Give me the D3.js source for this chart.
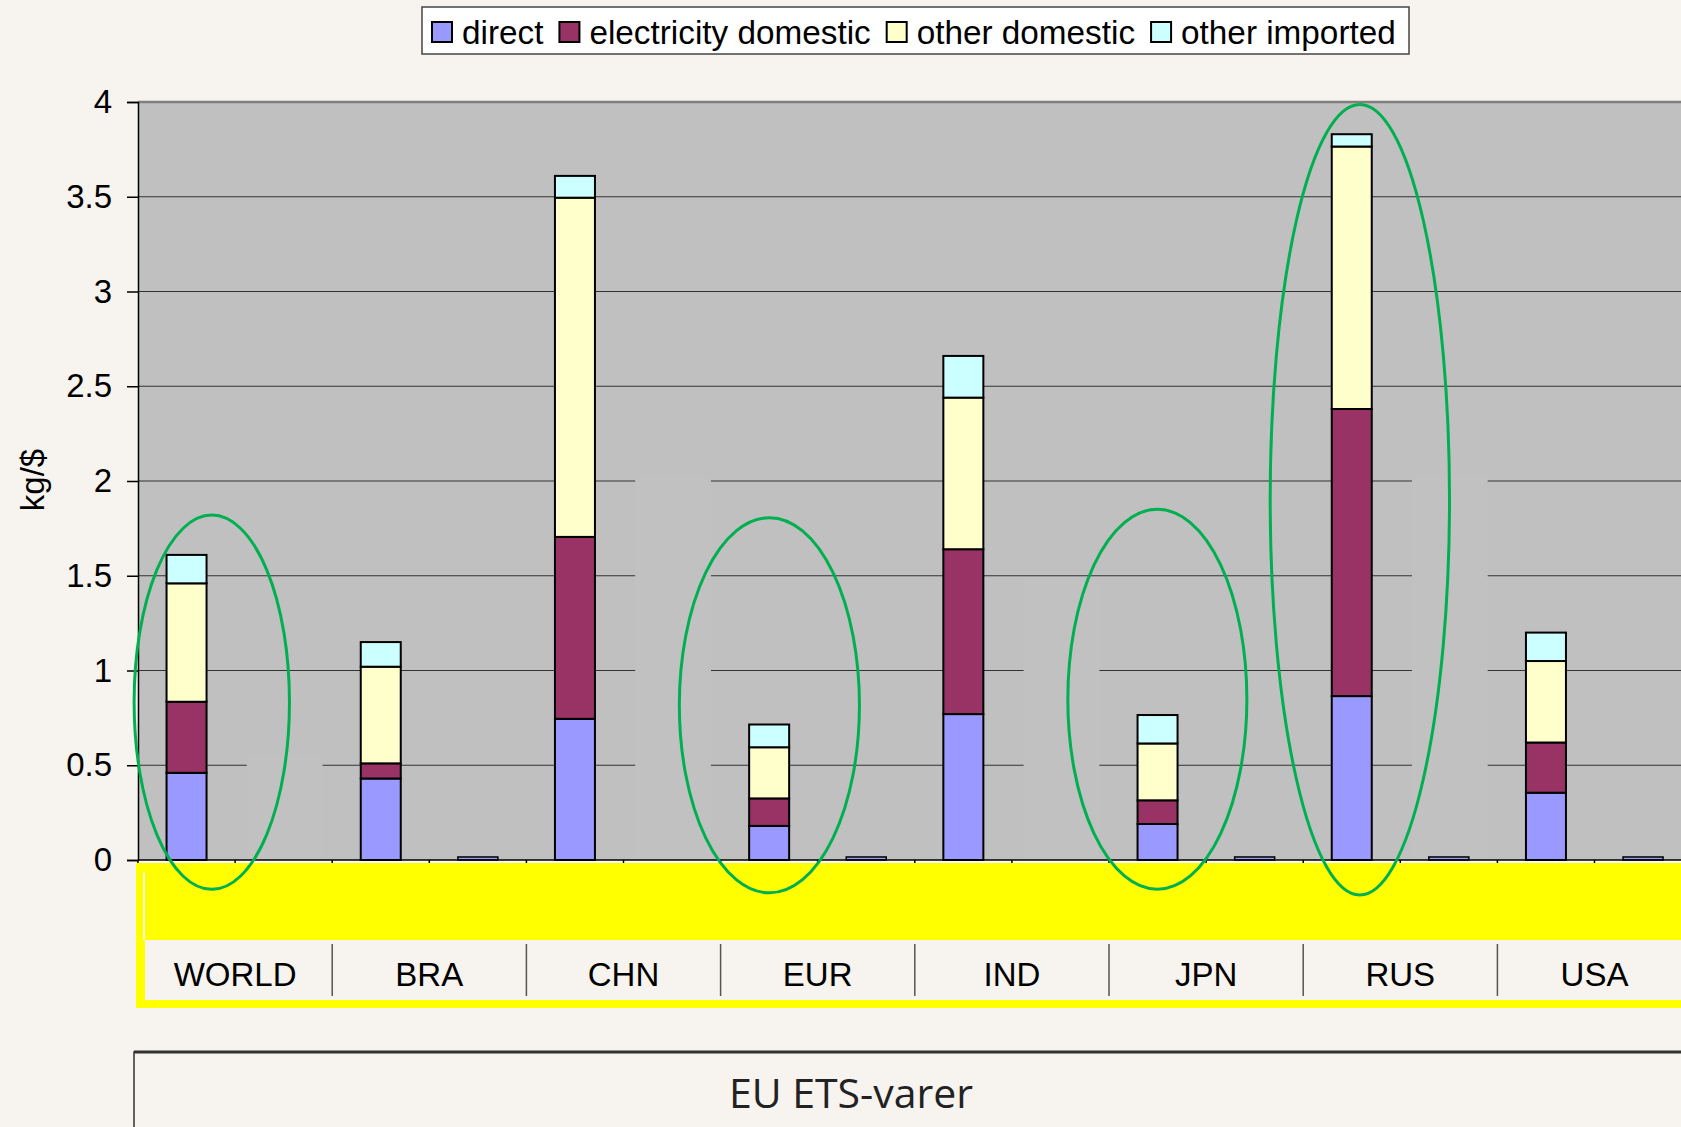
<!DOCTYPE html>
<html>
<head>
<meta charset="utf-8">
<script src="https://cdn.jsdelivr.net/npm/d3@7"></script>
<style>
  html, body { margin: 0; padding: 0; background: #f7f3ee; overflow: hidden; }
  svg { display: block; font-family: "Liberation Sans", Arial, sans-serif; }
</style>
</head>
<body>
<div class="chart"></div>
<script>
const categories = ["WORLD", "BRA", "CHN", "EUR", "IND", "JPN", "RUS", "USA"];
const seriesNames = ["direct", "electricity domestic", "other domestic", "other imported"];
const seriesColors = ["#9999ff", "#993366", "#ffffcc", "#ccffff"];

// first bar of each country
const direct = [0.46, 0.43, 0.745, 0.18, 0.77, 0.19, 0.865, 0.355];
const electricity = [0.375, 0.08, 0.96, 0.145, 0.87, 0.125, 1.515, 0.265];
const otherDomestic = [0.625, 0.51, 1.79, 0.27, 0.80, 0.30, 1.385, 0.43];
const otherImported = [0.15, 0.13, 0.115, 0.12, 0.22, 0.15, 0.065, 0.15];

// second (almost empty) bar of each country
const direct2 = [0, 0.016, 0, 0.016, 0, 0.016, 0.016, 0.016];
const electricity2 = [0, 0, 0, 0, 0, 0, 0, 0];
const otherDomestic2 = [0, 0, 0, 0, 0, 0, 0, 0];
const otherImported2 = [0, 0, 0, 0, 0, 0, 0, 0];

const yTicks = [0, 0.5, 1, 1.5, 2, 2.5, 3, 3.5, 4];

// circled countries: slot range and value range
const circles = [
  { x0: -0.04, x1: 1.56, y0: -0.155, y1: 1.82 },
  { x0: 5.575, x1: 7.43, y0: -0.173, y1: 1.806 },
  { x0: 9.576, x1: 11.42, y0: -0.154, y1: 1.851 },
  { x0: 11.66, x1: 13.507, y0: -0.185, y1: 3.987 }
];

// pasted-over patches in the plot (slot index, top value)
const patches = [[1, 0.55], [5, 2.02], [9, 1.48], [13, 2.02]];

const width = 1681;
const height = 1127;
const left = 138;
const slotW = 97.1;
const y0 = 860;
const yTop = 102;

const svg = d3.select(".chart")
  .append("svg")
  .attr("width", width)
  .attr("height", height);

const xs = d3.scaleLinear().domain([0, 16]).range([left, left + slotW * 16]);
const y = d3.scaleLinear().domain([0, 4]).range([y0, yTop]);

// rows: two slots per country
const rows = [];
categories.forEach((c, i) => {
  rows.push({ slot: i * 2, vals: [direct[i], electricity[i], otherDomestic[i], otherImported[i]] });
  rows.push({ slot: i * 2 + 1, vals: [direct2[i], electricity2[i], otherDomestic2[i], otherImported2[i]] });
});
const table = rows.map(r => {
  const o = { slot: r.slot, total: d3.sum(r.vals) };
  seriesNames.forEach((s, k) => o[s] = r.vals[k]);
  return o;
});
const stacked = d3.stack().keys(seriesNames)(table);

// plot background
svg.append("rect")
  .attr("x", left).attr("y", yTop)
  .attr("width", width - left).attr("height", y0 - yTop)
  .attr("fill", "#c0c0c0");

// gridlines
svg.append("g")
  .selectAll("line")
  .data(yTicks.slice(1))
  .enter()
  .append("line")
  .attr("x1", left).attr("x2", width)
  .attr("y1", d => y(d)).attr("y2", d => y(d))
  .attr("stroke", d => d === 4 ? "#808080" : "#333")
  .attr("stroke-width", d => d === 4 ? 2.5 : 1.2);

// patches
svg.append("g")
  .selectAll("rect")
  .data(patches)
  .enter()
  .append("rect")
  .attr("x", d => xs(d[0] + 0.12))
  .attr("width", xs(0.78) - xs(0))
  .attr("y", d => y(d[1]))
  .attr("height", d => y0 - y(d[1]))
  .attr("fill", "#c1c1c1");

// bars (empty segments are skipped, an empty bar is drawn as a flat line)
const barW = 40;
svg.append("g")
  .selectAll("g")
  .data(stacked)
  .enter()
  .append("g")
  .attr("fill", (d, i) => seriesColors[i])
  .selectAll("rect")
  .data((d, i) => d.filter(p => p[1] - p[0] > 0 || (i === 0 && p.data.total === 0)))
  .enter()
  .append("rect")
  .attr("x", d => xs(d.data.slot + 0.5) - barW / 2)
  .attr("width", barW)
  .attr("y", d => y(d[1]))
  .attr("height", d => y(d[0]) - y(d[1]))
  .attr("stroke", "#000")
  .attr("stroke-width", d => d.data.total === 0 ? 2 : (d.data.total < 0.05 ? 1.5 : 2));

// y axis
const yAxis = d3.axisLeft(y)
  .tickValues(yTicks)
  .tickSize(11)
  .tickPadding(15)
  .tickFormat(d => d);
const ya = svg.append("g")
  .attr("transform", `translate(${left},0)`)
  .call(yAxis);
ya.select(".domain").attr("stroke", "#000").attr("stroke-width", 1.5);
ya.selectAll(".tick line").attr("stroke", "#000").attr("stroke-width", 1.5);
ya.selectAll(".tick text")
  .attr("fill", "#000")
  .style("font-size", "33px")
  .style("font-family", "Liberation Sans, Arial, sans-serif");

svg.append("text")
  .attr("transform", "translate(44,480) rotate(-90)")
  .attr("text-anchor", "middle")
  .style("font-size", "33px")
  .text("kg/$");

// x axis line and slot ticks
svg.append("line")
  .attr("x1", left).attr("x2", width)
  .attr("y1", y0).attr("y2", y0)
  .attr("stroke", "#000").attr("stroke-width", 1.5);
svg.append("rect")
  .attr("x", left).attr("y", y0 + 1)
  .attr("width", width - left).attr("height", 2)
  .attr("fill", "#fbfbf6");
svg.append("g")
  .selectAll("line")
  .data(d3.range(0, 17))
  .enter()
  .append("line")
  .attr("x1", d => xs(d)).attr("x2", d => xs(d))
  .attr("y1", y0).attr("y2", y0 + 5)
  .attr("stroke", "#000").attr("stroke-width", 1.5);

// yellow highlight over the category area
svg.append("rect")
  .attr("x", 136).attr("y", 863)
  .attr("width", width - 136).attr("height", 145)
  .attr("fill", "#ffff00");
svg.append("rect")
  .attr("x", 145).attr("y", 940)
  .attr("width", width - 145).attr("height", 60)
  .attr("fill", "#f7f3ee");
svg.append("line")
  .attr("x1", 144).attr("x2", 144)
  .attr("y1", 872).attr("y2", 940)
  .attr("stroke", "#f4f4e8").attr("stroke-width", 2);

// category labels and separators
svg.append("g")
  .selectAll("text")
  .data(categories)
  .enter()
  .append("text")
  .attr("x", (d, i) => xs(i * 2 + 1))
  .attr("y", 986)
  .attr("text-anchor", "middle")
  .style("font-size", "33px")
  .text(d => d);
svg.append("g")
  .selectAll("line")
  .data(d3.range(1, categories.length))
  .enter()
  .append("line")
  .attr("x1", d => xs(d * 2)).attr("x2", d => xs(d * 2))
  .attr("y1", 944).attr("y2", 996)
  .attr("stroke", "#555").attr("stroke-width", 1.5);

// green ellipses
svg.append("g")
  .selectAll("ellipse")
  .data(circles)
  .enter()
  .append("ellipse")
  .attr("cx", d => (xs(d.x0) + xs(d.x1)) / 2)
  .attr("cy", d => (y(d.y0) + y(d.y1)) / 2)
  .attr("rx", d => (xs(d.x1) - xs(d.x0)) / 2)
  .attr("ry", d => (y(d.y0) - y(d.y1)) / 2)
  .attr("fill", "none")
  .attr("stroke", "#00b050")
  .attr("stroke-width", 3);

// legend
const legend = svg.append("g");
legend.append("rect")
  .attr("x", 422).attr("y", 7)
  .attr("width", 987).attr("height", 47)
  .attr("fill", "#fff")
  .attr("stroke", "#444").attr("stroke-width", 1.5);
let lx = 432;
seriesNames.forEach((s, i) => {
  legend.append("rect")
    .attr("x", lx).attr("y", 22)
    .attr("width", 20).attr("height", 20)
    .attr("fill", seriesColors[i])
    .attr("stroke", "#000").attr("stroke-width", 2);
  const t = legend.append("text")
    .attr("x", lx + 30).attr("y", 44)
    .style("font-size", "33.3px")
    .text(s);
  lx += 30 + t.node().getComputedTextLength() + 16;
});

// title box below
svg.append("rect")
  .attr("x", 134).attr("y", 1052)
  .attr("width", width).attr("height", 200)
  .attr("fill", "#f7f3ee")
  .attr("stroke", "#333").attr("stroke-width", 1.5);
svg.append("line")
  .attr("x1", 134).attr("x2", width)
  .attr("y1", 1052).attr("y2", 1052)
  .attr("stroke", "#333").attr("stroke-width", 3);
svg.append("text")
  .attr("x", 851).attr("y", 1108)
  .attr("text-anchor", "middle")
  .style("font-family", "'Open Sans', sans-serif")
  .style("font-size", "41px")
  .attr("fill", "#222")
  .text("EU ETS-varer");
</script>
</body>
</html>
